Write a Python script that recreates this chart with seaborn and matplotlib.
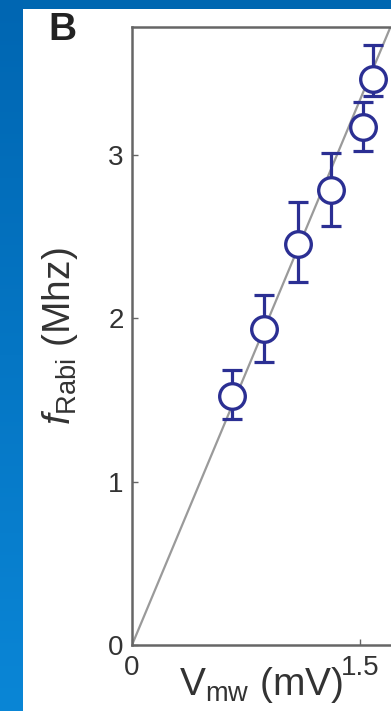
import numpy as np
import pandas as pd
import seaborn as sns
import matplotlib.pyplot as plt
from matplotlib.patches import Rectangle


# =========================
# 数据
# =========================

v_mw = [0.66, 0.87, 1.09, 1.31, 1.52, 1.585]          # mV
f_rabi = [1.52, 1.93, 2.45, 2.78, 3.17, 3.46]         # MHz
err_low = [0.14, 0.20, 0.23, 0.22, 0.15, 0.10]
err_high = [0.16, 0.21, 0.26, 0.23, 0.15, 0.21]

fit_x = [0.0, 1.75]
fit_y = [0.0, 3.89]

x_ticks = [0, 1.5]
x_tick_labels = ["0", "1.5"]
y_ticks = [0, 1, 2, 3]
y_tick_labels = ["0", "1", "2", "3"]

points = pd.DataFrame({"v": v_mw, "f": f_rabi})
fit = pd.DataFrame({"v": fit_x, "f": fit_y})


# =========================
# 样式
# =========================

sns.set_style("ticks")
plt.rcParams['font.family'] = ['Liberation Sans', 'DejaVu Sans']
plt.rcParams['mathtext.fontset'] = 'custom'
plt.rcParams['mathtext.rm'] = 'Liberation Sans'
plt.rcParams['mathtext.it'] = 'Liberation Sans:italic'

navy = "#2b2f93"
spine_gray = "#666666"

W, H = 391, 711
fig = plt.figure(figsize=(W / 100, H / 100), dpi=100)
fig.patch.set_facecolor("#0067b1")

# 左侧蓝色渐变背景
bg = fig.add_axes([0, 0, 23 / W, 1], zorder=-3)
grad = np.linspace(0, 1, 256).reshape(-1, 1)
bg.imshow(grad, aspect="auto", cmap=sns.blend_palette(["#0066b2", "#0a86d6"], as_cmap=True),
          origin="upper")
bg.set_axis_off()

# 白色面板
fig.add_artist(Rectangle((23 / W, 0), 1, (H - 9) / H, transform=fig.transFigure,
                         facecolor="white", edgecolor="none", zorder=-2))

ax = fig.add_axes([132 / W, (H - 645) / H, (W - 132) / W, (645 - 27) / H])
ax.set_facecolor("white")

sns.lineplot(data=fit, x="v", y="f", ax=ax, color="#9a9a9a", linewidth=1.6, zorder=1)
ax.errorbar(v_mw, f_rabi, yerr=[err_low, err_high], fmt="none", ecolor=navy,
            elinewidth=2.3, capsize=7.5, capthick=2.3, zorder=2)
sns.scatterplot(data=points, x="v", y="f", ax=ax, s=340, facecolor="white",
                edgecolor=navy, linewidth=2.4, zorder=3)

ax.set_xlim(0, 1.704)
ax.set_ylim(0, 3.78)
ax.set_xticks(x_ticks, x_tick_labels)
ax.set_yticks(y_ticks, y_tick_labels)
ax.tick_params(direction="in", length=4, width=1, color=spine_gray,
               labelsize=20, labelcolor="#333333", pad=6)
ax.tick_params(axis="x", pad=7)

for side in ["left", "bottom", "top"]:
    ax.spines[side].set_color(spine_gray)
    ax.spines[side].set_linewidth(1.8)
ax.spines["right"].set_visible(False)

ax.set_xlabel(r"V$_{\mathrm{mw}}$ (mV)", fontsize=28, color="#333333", labelpad=-11)
ax.set_ylabel(r"$f_{\mathrm{Rabi}}$ (Mhz)", fontsize=28, color="#333333", labelpad=20)

fig.text(48 / W, 1 - 40 / H, "B", fontsize=28, fontweight="bold", color="#222222",
         va="baseline", ha="left")

fig.savefig("out.png", dpi=100)
